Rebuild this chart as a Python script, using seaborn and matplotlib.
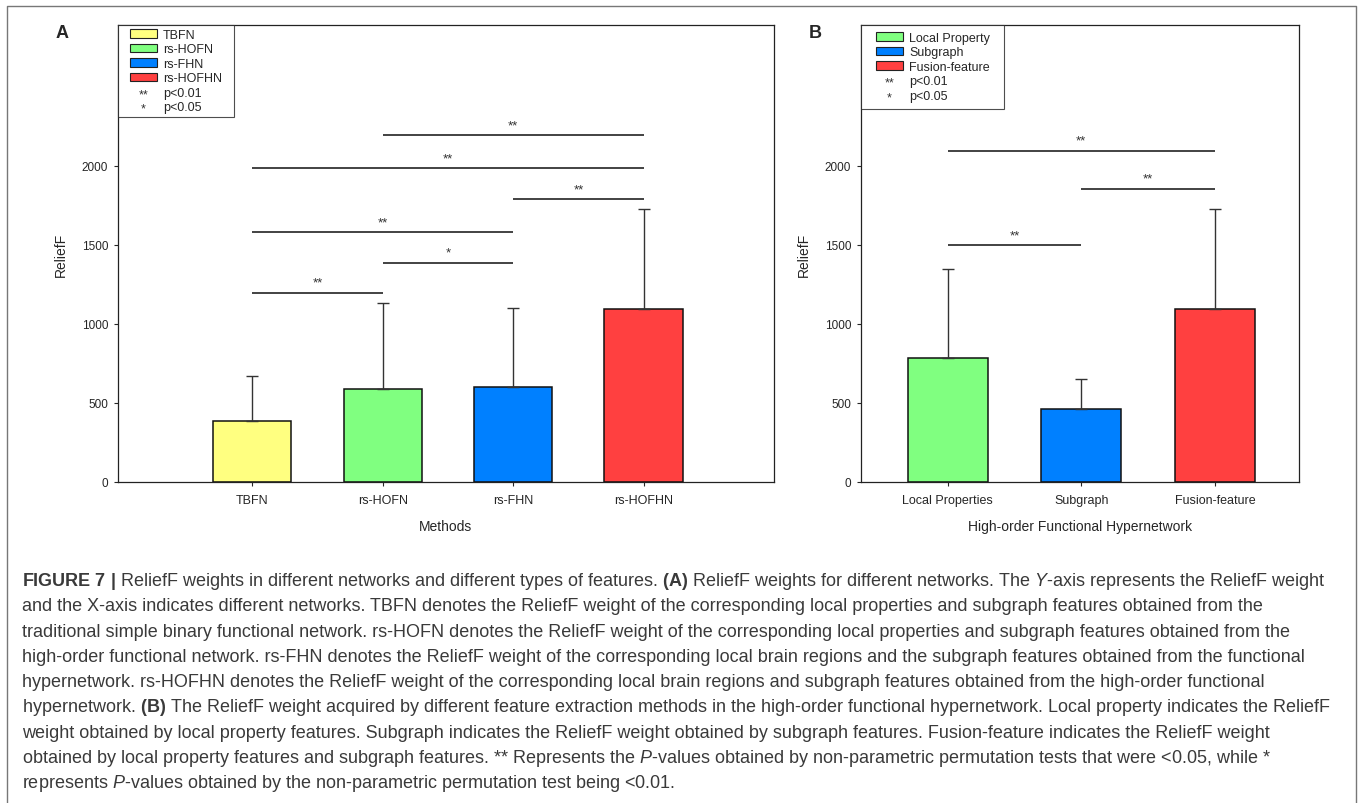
import numpy as np
import pandas as pd
import matplotlib
matplotlib.use('Agg')
import matplotlib.pyplot as plt
import seaborn as sns
from matplotlib.patches import Patch, Rectangle
from matplotlib.lines import Line2D
from matplotlib.legend_handler import HandlerBase
from matplotlib.text import Text
from matplotlib import font_manager

# Panel A: ReliefF weight per network (mean, upper error)
methods = ['TBFN', 'rs-HOFN', 'rs-FHN', 'rs-HOFHN']
method_means = [388, 589, 599, 1091]
method_err = [283, 542, 500, 637]
method_colors = ['#FFFF80', '#80FF80', '#0080FF', '#FF4040']

# Panel B: ReliefF weight per feature type
features = ['Local Properties', 'Subgraph', 'Fusion-feature']
feature_legend = ['Local Property', 'Subgraph', 'Fusion-feature']
feature_means = [783, 464, 1091]
feature_err = [563, 188, 637]
feature_colors = ['#80FF80', '#0080FF', '#FF4040']

# significance brackets: (from, to, height, stars)
sig_a = [(0, 1, 1196, '**'), (1, 2, 1386, '*'), (0, 2, 1580, '**'),
         (2, 3, 1787, '**'), (0, 3, 1985, '**'), (1, 3, 2192, '**')]
sig_b = [(0, 1, 1496, '**'), (1, 2, 1854, '**'), (0, 2, 2093, '**')]

caption_lines = [
    r"$\mathbf{FIGURE\ 7\ |}$ ReliefF weights in different networks and different types of features. $\mathbf{(A)}$ ReliefF weights for different networks. The $\mathit{Y}$-axis represents the ReliefF weight",
    "and the X-axis indicates different networks. TBFN denotes the ReliefF weight of the corresponding local properties and subgraph features obtained from the",
    "traditional simple binary functional network. rs-HOFN denotes the ReliefF weight of the corresponding local properties and subgraph features obtained from the",
    "high-order functional network. rs-FHN denotes the ReliefF weight of the corresponding local brain regions and the subgraph features obtained from the functional",
    "hypernetwork. rs-HOFHN denotes the ReliefF weight of the corresponding local brain regions and subgraph features obtained from the high-order functional",
    r"hypernetwork. $\mathbf{(B)}$ The ReliefF weight acquired by different feature extraction methods in the high-order functional hypernetwork. Local property indicates the ReliefF",
    "weight obtained by local property features. Subgraph indicates the ReliefF weight obtained by subgraph features. Fusion-feature indicates the ReliefF weight",
    r"obtained by local property features and subgraph features. ** Represents the $\mathit{P}$-values obtained by non-parametric permutation tests that were <0.05, while *",
    r"represents $\mathit{P}$-values obtained by the non-parametric permutation test being <0.01.",
]

sns.set_style('ticks')
plt.rcParams['font.family'] = ['Liberation Sans', 'DejaVu Sans']
names = {f.name for f in font_manager.fontManager.ttflist}
cap_font = 'Liberation Sans Narrow' if 'Liberation Sans Narrow' in names else 'Liberation Sans'
plt.rcParams['mathtext.fontset'] = 'custom'
plt.rcParams['mathtext.rm'] = cap_font
plt.rcParams['mathtext.it'] = cap_font + ':italic'
plt.rcParams['mathtext.bf'] = cap_font + ':bold'

W, H = 1360, 804
fig = plt.figure(figsize=(W / 100, H / 100), dpi=100)

INSET = 6  # px gap between legend frame and handles


class Stars:
    def __init__(self, s):
        self.s = s


class StarHandler(HandlerBase):
    def create_artists(self, legend, orig_handle, xdescent, ydescent,
                       width, height, fontsize, trans):
        t = Text((width + INSET) / 2 - xdescent, height / 2 - ydescent - 2, orig_handle.s,
                 ha='center', va='center', fontsize=fontsize, color='#333333',
                 transform=trans)
        return [t]


class BoxHandler(HandlerBase):
    def create_artists(self, legend, orig_handle, xdescent, ydescent,
                       width, height, fontsize, trans):
        r = Rectangle((INSET - xdescent, -ydescent), width - INSET, height,
                      facecolor=orig_handle.get_facecolor(), edgecolor='#222222',
                      lw=0.8, transform=trans)
        return [r]


def panel(rect, cats, means, errs, colors, leg_labels, sig, xlabel, xlim, leg_w, leg_pad):
    ax = fig.add_axes(rect)
    df = pd.DataFrame({'cat': cats, 'val': means})
    sns.barplot(data=df, x='cat', y='val', hue='cat', palette=colors, width=0.6,
                saturation=1, edgecolor='#111111', linewidth=1.1, legend=False, ax=ax)
    n = len(cats)
    ax.errorbar(np.arange(n), means, yerr=[np.zeros(n), errs], fmt='none',
                ecolor='#333333', elinewidth=1, capsize=4, capthick=1, zorder=3)
    for i, j, y, s in sig:
        ax.plot([i, j], [y, y], color='#222222', lw=1.2, solid_capstyle='butt')
        ax.annotate(s, ((i + j) / 2, y), xytext=(0, 3), textcoords='offset points',
                    ha='center', va='bottom', fontsize=9.5, color='#333333')
    ax.set_xlim(*xlim)
    ax.set_ylim(0, 2890)
    ax.set_yticks([0, 500, 1000, 1500, 2000])
    ax.tick_params(direction='out', length=3, width=0.8, labelsize=8.5)
    ax.tick_params(axis='x', pad=6, labelsize=9)
    ax.tick_params(axis='y', pad=4)
    ax.set_xlabel(xlabel, fontsize=10, labelpad=9)
    ax.set_ylabel('ReliefF', fontsize=10, labelpad=10)
    for sp in ax.spines.values():
        sp.set_visible(True)
        sp.set_linewidth(0.9)
        sp.set_color('#222222')
    handles = [Patch(facecolor=c) for c in colors]
    handles += [Stars('**'), Stars('*')]
    ax_w = rect[2] * W
    leg = ax.legend(handles, leg_labels + ['p<0.01', 'p<0.05'],
                    handler_map={Stars: StarHandler(), Patch: BoxHandler()},
                    loc='upper left', bbox_to_anchor=(0, 1, leg_w / ax_w, 0), mode='expand',
                    borderaxespad=0, frameon=True, fancybox=False, edgecolor='#222222',
                    fontsize=9, handlelength=2.8, handleheight=0.65, labelspacing=0.2,
                    handletextpad=0.5, borderpad=leg_pad)
    leg.get_frame().set_linewidth(0.8)
    return ax


bottom = 1 - 483 / H
height = (483 - 26) / H
panel([118 / W, bottom, (774 - 118) / W, height], methods, method_means, method_err,
      method_colors, methods, sig_a, 'Methods', (-1.03, 4.0), 116, 0.3)
panel([861 / W, bottom, (1299 - 861) / W, height], features, feature_means, feature_err,
      feature_colors, feature_legend, sig_b, 'High-order Functional Hypernetwork',
      (-0.65, 2.63), 143, 0.55)

fig.text(62 / W, 1 - 33 / H, 'A', fontsize=13, weight='bold', ha='center', va='center')
fig.text(815 / W, 1 - 33 / H, 'B', fontsize=13, weight='bold', ha='center', va='center')

# outer frame (open at the bottom)
fig.add_artist(Line2D([7 / W, 7 / W, 1356 / W, 1356 / W], [0, 1 - 7 / H, 1 - 7 / H, 0],
                      color='#777777', lw=1))

# caption, sized so that the first line spans the measured width
renderer = fig.canvas.get_renderer()
probe = fig.text(0, 0, caption_lines[0], fontsize=12, family=cap_font)
w = probe.get_window_extent(renderer).width
probe.remove()
fs = 12 * 1300 / w
for k, line in enumerate(caption_lines):
    fig.text(22 / W, 1 - (586 + k * 25.3) / H, line, fontsize=fs, family=cap_font,
             color='#3a3a3a', va='baseline', ha='left')

fig.savefig('out.png', dpi=100)
